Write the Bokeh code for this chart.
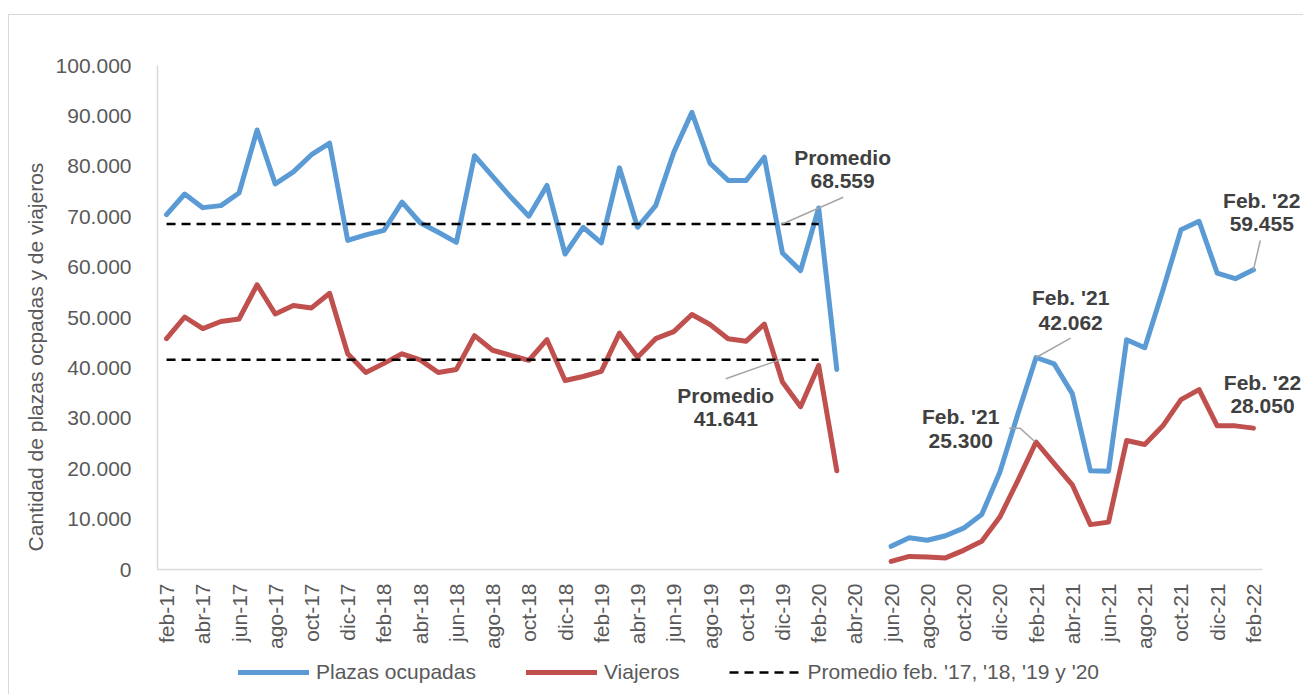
import math
from bokeh.plotting import figure
from bokeh.models import Range1d, FixedTicker, Legend, LegendItem, Label, ColumnDataSource
from bokeh.embed import file_html
from bokeh.resources import INLINE

nan = float("nan")

# ---------------- data ----------------
meses_abrev = ["ene", "feb", "mar", "abr", "may", "jun", "jul", "ago", "sep", "oct", "nov", "dic"]
months = [f"{m}-{y}" for y in range(17, 23) for m in meses_abrev]
months = months[months.index("feb-17"):months.index("feb-22") + 1]

plazas = [
    70400, 74500, 71800, 72200, 74700, 87200, 76500, 78900, 82300, 84600, 65300,           # feb-dic 17
    66400, 67300, 72900, 68800, 66900, 64900, 82100, 78000, 73900, 70100, 76200, 62600,     # 2018
    67900, 64800, 79700, 67900, 72200, 82800, 90700, 80600, 77200, 77200, 81800, 62800,     # 2019
    59300, 71736, 39700, nan, nan, 4600, 6300, 5800, 6700, 8200, 10900, 19300,              # 2020
    30900, 42062, 40800, 34900, 19600, 19500, 45600, 44000, 55400, 67400, 69100, 58800,     # 2021
    57700, 59455,                                                                           # ene-feb 22
]
viajeros = [
    45800, 50100, 47800, 49200, 49700, 56500, 50700, 52400, 51900, 54800, 42800,
    39100, 40900, 42800, 41600, 39100, 39700, 46400, 43500, 42500, 41500, 45600, 37500,
    38300, 39300, 46900, 42100, 45800, 47200, 50600, 48600, 45800, 45300, 48700, 37200,
    32300, 40500, 19600, nan, nan, 1600, 2600, 2500, 2300, 3800, 5600, 10400,
    17700, 25300, 21000, 16800, 8900, 9400, 25600, 24800, 28500, 33700, 35700, 28500,
    28500, 28050,
]
promedio_plazas = 68559
promedio_viajeros = 41641
promedio_desde, promedio_hasta = "feb-17", "feb-20"

y_ticks = [0, 10000, 20000, 30000, 40000, 50000, 60000, 70000, 80000, 90000, 100000]
y_tick_labels = ["0", "10.000", "20.000", "30.000", "40.000", "50.000",
                 "60.000", "70.000", "80.000", "90.000", "100.000"]
x_ticks = list(range(0, len(months), 2))
x_tick_labels = [months[i] for i in x_ticks]

series_names = ["Plazas ocupadas", "Viajeros", "Promedio feb. '17, '18, '19 y '20"]
y_title = "Cantidad de plazas ocpadas y de viajeros"

# ---------------- style / geometry ----------------
FONT = "Liberation Sans"
BLUE = "#5B9BD5"
RED = "#C0504D"
GREY_TXT = "#595959"
ANN = "#404040"
LEADER = "#A6A6A6"

W, H = 1295, 680
PLOT_L = 148                         # left edge of plot area inside the canvas, px
PLOT_T, PLOT_B = 50, 554             # plot area (y) inside the canvas, px
Y_MAX = 100000
n = len(months)
px_x = 1105 / n                      # px per month (axis 1105 px long)
px_y = (PLOT_B - PLOT_T) / Y_MAX
x0 = -0.5 - PLOT_L / px_x
x1 = -0.5 + (W - PLOT_L) / px_x
y0 = -(H - PLOT_B) / px_y
y1 = Y_MAX + PLOT_T / px_y

def fmt(v):
    return f"{v:,.0f}".replace(",", ".")

idx = list(range(n))
src = ColumnDataSource(dict(x=idx, plazas=plazas, viajeros=viajeros))

p = figure(width=W, height=H, output_backend="svg", toolbar_location=None,
           title=None, x_range=Range1d(x0, x1), y_range=Range1d(y0, y1),
           min_border_left=0, min_border_right=0, min_border_top=0, min_border_bottom=0)
p.styles = {"margin": "14px 0px 0px 8px", "border-left": "1px solid #D9D9D9",
            "border-top": "1px solid #D9D9D9"}
p.outline_line_color = None
p.background_fill_color = "white"
p.border_fill_color = "white"
p.xgrid.grid_line_color = None
p.ygrid.grid_line_color = None

for ax in (p.xaxis[0], p.yaxis[0]):
    ax.axis_line_color = "#D9D9D9"
    ax.axis_line_width = 1.5
    ax.major_tick_line_color = None
    ax.minor_tick_line_color = None
    ax.major_label_text_font = FONT
    ax.major_label_text_font_size = "21px"
    ax.major_label_text_color = GREY_TXT

p.yaxis.fixed_location = -0.5
p.yaxis.bounds = (0, Y_MAX)
p.yaxis.ticker = FixedTicker(ticks=y_ticks)
p.yaxis.major_label_overrides = dict(zip(y_ticks, y_tick_labels))
p.yaxis.major_label_standoff = 20

p.xaxis.fixed_location = 0
p.xaxis.bounds = (-0.5, n - 0.5)
p.xaxis.ticker = FixedTicker(ticks=x_ticks)
p.xaxis.major_label_overrides = dict(zip(x_ticks, x_tick_labels))
p.xaxis.major_label_orientation = math.pi / 2
p.xaxis.major_label_standoff = 8

r_pl = p.line("x", "plazas", source=src, line_color=BLUE, line_width=5,
              line_join="round", line_cap="round")
r_vi = p.line("x", "viajeros", source=src, line_color=RED, line_width=5,
              line_join="round", line_cap="round")

i0, i1 = months.index(promedio_desde), months.index(promedio_hasta)
r_avg = p.line([i0, i1], [promedio_plazas, promedio_plazas], line_color="black",
               line_width=2.5, line_dash="9 6")
p.line([i0, i1], [promedio_viajeros, promedio_viajeros], line_color="black",
       line_width=2.5, line_dash="9 6")

# leader lines
i_f21 = months.index("feb-21")
i_f22 = months.index("feb-22")
p.line([37.36, 33.99], [73870, promedio_plazas], line_color=LEADER, line_width=1.5)
p.line([30.87, 33.99], [37840, promedio_viajeros + 150], line_color=LEADER, line_width=1.5)
p.line([49.91, i_f21], [45900, plazas[i_f21]], line_color=LEADER, line_width=1.5)
p.line([46.51, 47.11, i_f21 - 0.07], [28040, 28040, viajeros[i_f21] + 100], line_color=LEADER, line_width=1.5)
p.line([60.38, i_f22], [65280, plazas[i_f22]], line_color=LEADER, line_width=1.5)

def ann(x, y1_, y2_, t1, t2):
    for yy, tt in ((y1_, t1), (y2_, t2)):
        p.add_layout(Label(x=x, y=yy, text=tt, text_font=FONT, text_font_size="21px",
                           text_font_style="bold", text_color=ANN,
                           text_align="center", text_baseline="middle"))

ann(37.32, 81750, 77180, "Promedio", fmt(promedio_plazas))
ann(30.87, 34520, 29960, "Promedio", fmt(promedio_viajeros))
ann(49.91, 53970, 49000, "Feb. '21", fmt(plazas[i_f21]))
ann(43.84, 30360, 25400, "Feb. '21", fmt(viajeros[i_f21]))
ann(60.46, 73200, 68650, "Feb. '22", fmt(plazas[i_f22]))
ann(60.5, 37200, 32440, "Feb. '22", fmt(viajeros[i_f22]))

# y-axis title
p.add_layout(Label(x=-7.23, y=42160, text=y_title, angle=math.pi / 2,
                   text_font=FONT, text_font_size="21px", text_color=GREY_TXT,
                   text_align="center", text_baseline="middle"))

legend = Legend(items=[LegendItem(label=series_names[0], renderers=[r_pl]),
                       LegendItem(label=series_names[1], renderers=[r_vi]),
                       LegendItem(label=series_names[2], renderers=[r_avg])],
                location=(229, 11), orientation="horizontal",
                glyph_width=71, glyph_height=24, label_height=24, label_standoff=7,
                spacing=50, padding=0, margin=0,
                label_text_font=FONT, label_text_font_size="21px", label_text_color=GREY_TXT,
                border_line_color=None, background_fill_alpha=0)
p.add_layout(legend)

open("out.html", "w").write(file_html(p, INLINE))
